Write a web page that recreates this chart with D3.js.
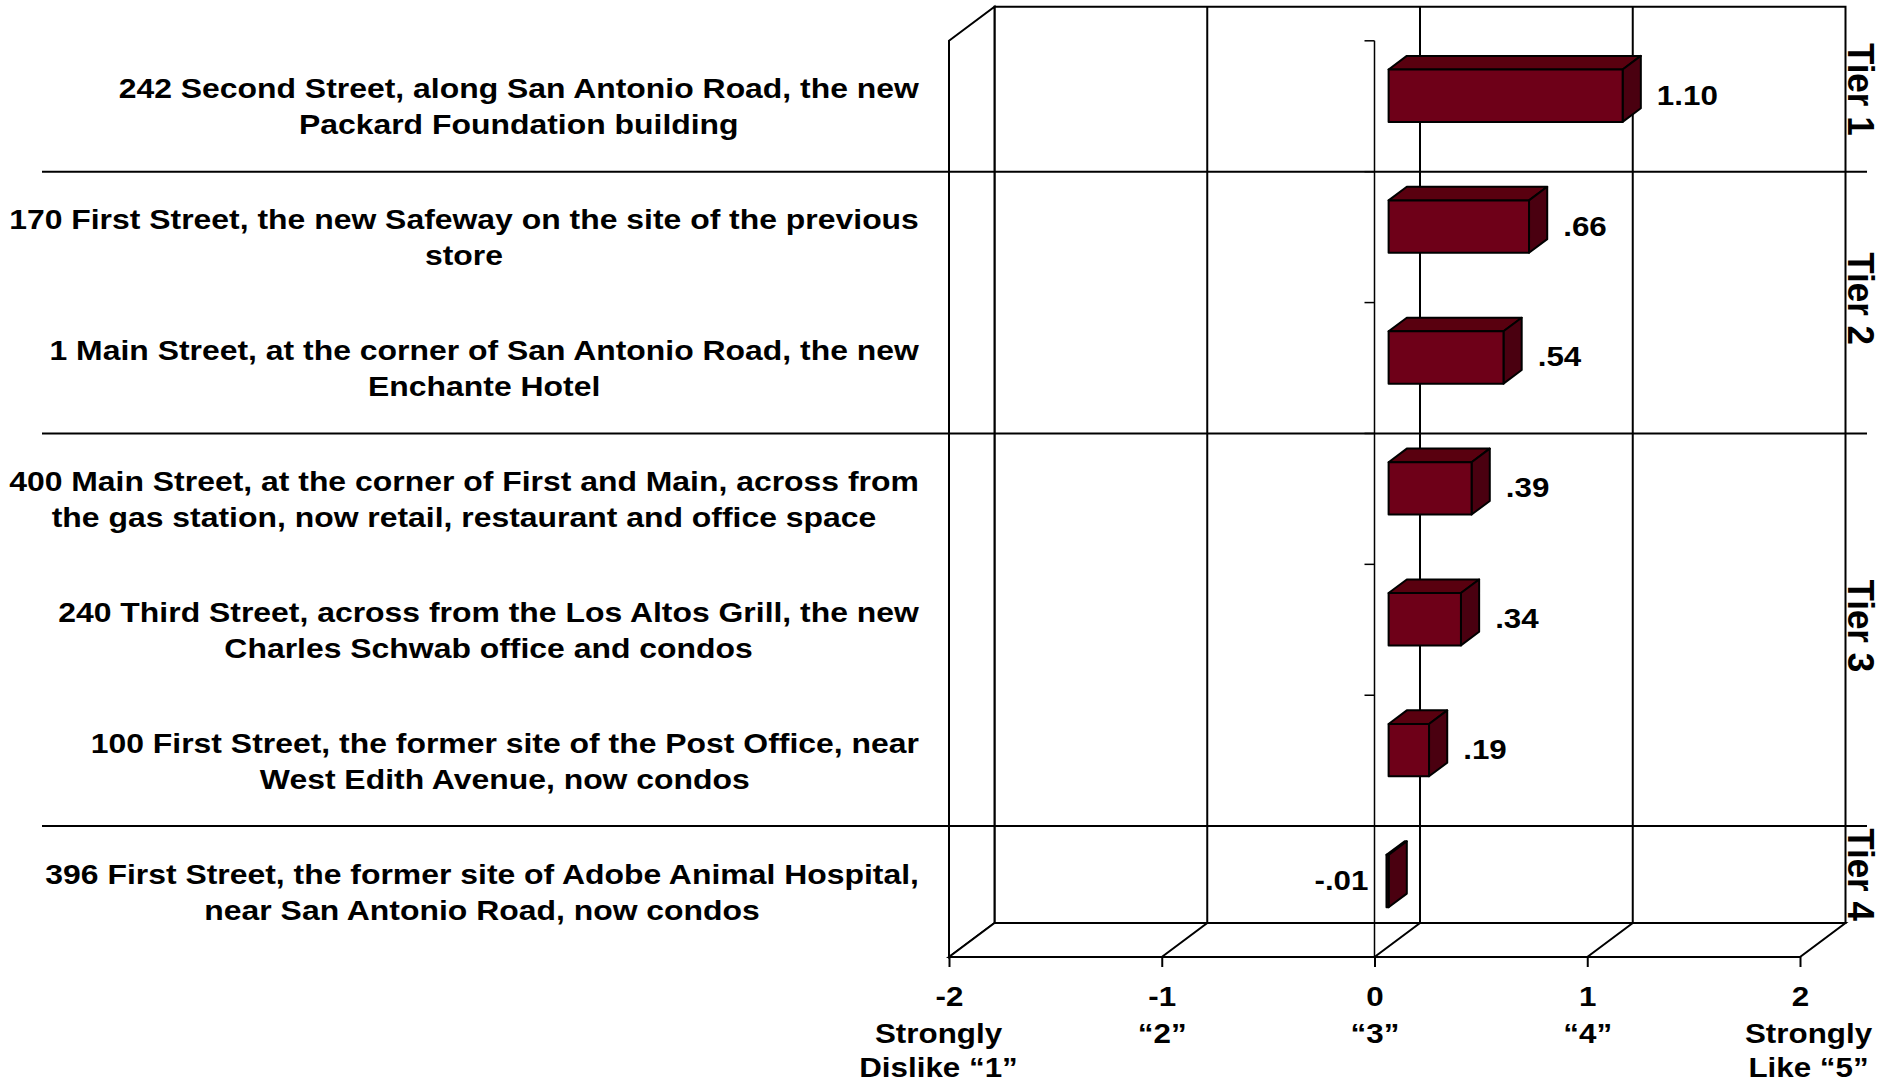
<!DOCTYPE html>
<html>
<head>
<meta charset="utf-8">
<script src="https://cdn.jsdelivr.net/npm/d3@7"></script>
<style>
  body { margin: 0; background: #fff; }
  text { font-family: "Liberation Sans", Arial, sans-serif; font-weight: bold; fill: #000; }
</style>
</head>
<body>
<div id="chart"></div>
<script>
// ratings per site, mean on a -2..2 scale
var categories = [
  ["242 Second Street, along San Antonio Road, the new", "Packard Foundation building"],
  ["170 First Street, the new Safeway on the site of the previous", "store"],
  ["1 Main Street, at the corner of San Antonio Road, the new", "Enchante Hotel"],
  ["400 Main Street, at the corner of First and Main, across from", "the gas station, now retail, restaurant and office space"],
  ["240 Third Street, across from the Los Altos Grill, the new", "Charles Schwab office and condos"],
  ["100 First Street, the former site of the Post Office, near", "West Edith Avenue, now condos"],
  ["396 First Street, the former site of Adobe Animal Hospital,", "near San Antonio Road, now condos"]
]
var values = [1.10, 0.66, 0.54, 0.39, 0.34, 0.19, -0.01]

var tiers = ["Tier 1", "Tier 2", "Tier 3", "Tier 4"]
var tierStart = [0, 1, 3, 6]   // first category of each tier

var tickValues = [-2, -1, 0, 1, 2]
var tickSubLabels = [["Strongly", "Dislike \u201c1\u201d"], ["\u201c2\u201d"], ["\u201c3\u201d"], ["\u201c4\u201d"], ["Strongly", "Like \u201c5\u201d"]]

var width = 1883, height = 1086
var DX = 45.5, DY = 34          // depth offset of the 3d box
var d0 = 0.31, d1 = 0.71        // bar depth inside the box
var SX = 1.12                   // text is a bit wide in the original
var labelRight = 919

var svg = d3.select("#chart").append("svg")
  .attr("width", width).attr("height", height)

var x = d3.scaleLinear().domain([-2, 2]).range([949, 1800])
var y = d3.scaleBand().domain(d3.range(categories.length))
  .range([40.8, 957]).paddingInner(0.6).paddingOuter(0.3)

var yTop = y.range()[0], yBot = y.range()[1]
function bandTop(i){ return i >= categories.length ? yBot : y(i) - (y.step() - y.bandwidth()) / 2 }
function pt(px, py, d){ return [px + DX * d, py - DY * d] }
function poly(pts){ return pts.map(function(p){ return p.join(",") }).join(" ") }

// walls
var box = svg.append("g").attr("fill", "#fff").attr("stroke", "#000").attr("stroke-width", 2)
box.append("polygon").attr("points", poly([pt(x(-2), yTop, 1), pt(x(2), yTop, 1), pt(x(2), yBot, 1), pt(x(-2), yBot, 1)]))
box.append("polygon").attr("points", poly([pt(x(-2), yTop, 0), pt(x(-2), yTop, 1), pt(x(-2), yBot, 1), pt(x(-2), yBot, 0)]))
box.append("polygon").attr("points", poly([pt(x(-2), yBot, 0), pt(x(2), yBot, 0), pt(x(2), yBot, 1), pt(x(-2), yBot, 1)]))

var grid = svg.append("g").attr("stroke", "#000").attr("stroke-width", 2)
tickValues.slice(1, -1).forEach(function(t){
  var a = pt(x(t), yTop, 1), b = pt(x(t), yBot, 1), c = pt(x(t), yBot, 0)
  grid.append("polyline").attr("fill", "none").attr("points", poly([a, b, c]))
})

// category axis at zero on the front plane
var cat = svg.append("g").attr("stroke", "#000").attr("stroke-width", 1.5)
cat.append("line").attr("x1", x(0)).attr("x2", x(0)).attr("y1", yTop).attr("y2", yBot)
d3.range(categories.length + 1).forEach(function(i){
  cat.append("line").attr("x1", x(0) - 10).attr("x2", x(0))
    .attr("y1", bandTop(i)).attr("y2", bandTop(i))
})

// value axis
var xAxis = svg.append("g").attr("transform", "translate(0," + yBot + ")")
  .call(d3.axisBottom(x).tickValues(tickValues).tickSize(10).tickSizeOuter(0).tickPadding(19).tickFormat(function(d){ return String(d) }))
xAxis.select(".domain").remove()
xAxis.selectAll(".tick line").attr("stroke", "#000").attr("stroke-width", 2)
xAxis.selectAll(".tick text").attr("font-size", 28).attr("font-family", null)
  .attr("transform", "scale(" + SX + ",1)")
xAxis.selectAll(".tick").each(function(d, i){
  var g = d3.select(this)
  var nudge = i == 0 ? -11 : (i == tickValues.length - 1 ? 8 : 0)
  tickSubLabels[i].forEach(function(s, j){
    g.append("text").attr("text-anchor", "middle").attr("font-size", 28)
      .attr("transform", "translate(" + nudge + "," + (86 + j * 34) + ") scale(" + SX + ",1)").text(s)
  })
})

// tier separators
tierStart.slice(1).forEach(function(i){
  svg.append("line").attr("x1", 42).attr("x2", 1867)
    .attr("y1", bandTop(i)).attr("y2", bandTop(i))
    .attr("stroke", "#000").attr("stroke-width", 2)
})

// tier labels
tiers.forEach(function(t, k){
  var top = k == 0 ? yTop - DY : bandTop(tierStart[k])
  var bot = k == tiers.length - 1 ? yBot - DY : bandTop(tierStart[k + 1])
  var mid = (top + bot) / 2 - (k == 1 || k == 2 ? 4 : 0)
  svg.append("text").attr("text-anchor", "middle").attr("font-size", 35)
    .attr("transform", "translate(1848," + mid + ") scale(1.08,1) rotate(90)")
    .text(t)
})

// bars
var bars = svg.append("g").attr("stroke", "#000").attr("stroke-width", 2).attr("stroke-linejoin", "round")
values.forEach(function(v, i){
  var x0 = x(Math.min(0, v)), x1 = x(Math.max(0, v))
  var t = y(i), b = y(i) + y.bandwidth()
  bars.append("polygon").attr("fill", "#59000f")
    .attr("points", poly([pt(x0, t, d0), pt(x1, t, d0), pt(x1, t, d1), pt(x0, t, d1)]))
  bars.append("polygon").attr("fill", "#4a0010")
    .attr("points", poly([pt(x1, t, d0), pt(x1, t, d1), pt(x1, b, d1), pt(x1, b, d0)]))
  bars.append("polygon").attr("fill", "#6e0018")
    .attr("points", poly([pt(x0, t, d0), pt(x1, t, d0), pt(x1, b, d0), pt(x0, b, d0)]))
})

// value labels
function fmt(v){ return v.toFixed(2).replace(/^(-?)0\./, "$1.") }
values.forEach(function(v, i){
  var cy = y(i) + y.bandwidth() / 2 - DY * d0 + 9
  var px = v >= 0 ? x(v) + DX * d1 + 16 : x(v) + DX * d0 - 18
  svg.append("text").attr("font-size", 28).attr("text-anchor", v >= 0 ? "start" : "end")
    .attr("transform", "translate(" + px + "," + cy + ") scale(" + SX + ",1)")
    .text(fmt(v))
})

// category labels, lines centred in a right-aligned block
categories.forEach(function(lines, i){
  var cy = y(i) + y.bandwidth() / 2
  var g = svg.append("g")
  var texts = lines.map(function(s, j){
    return g.append("text").attr("font-size", 28.5).attr("text-anchor", "middle")
      .attr("data-y", cy + (j - (lines.length - 1) / 2) * 36 + 10).text(s)
  })
  var w = d3.max(texts, function(t){ return t.node().getComputedTextLength() }) * SX
  var cx = labelRight - w / 2
  texts.forEach(function(t){
    t.attr("transform", "translate(" + cx + "," + t.attr("data-y") + ") scale(" + SX + ",1)")
  })
})
</script>
</body>
</html>
